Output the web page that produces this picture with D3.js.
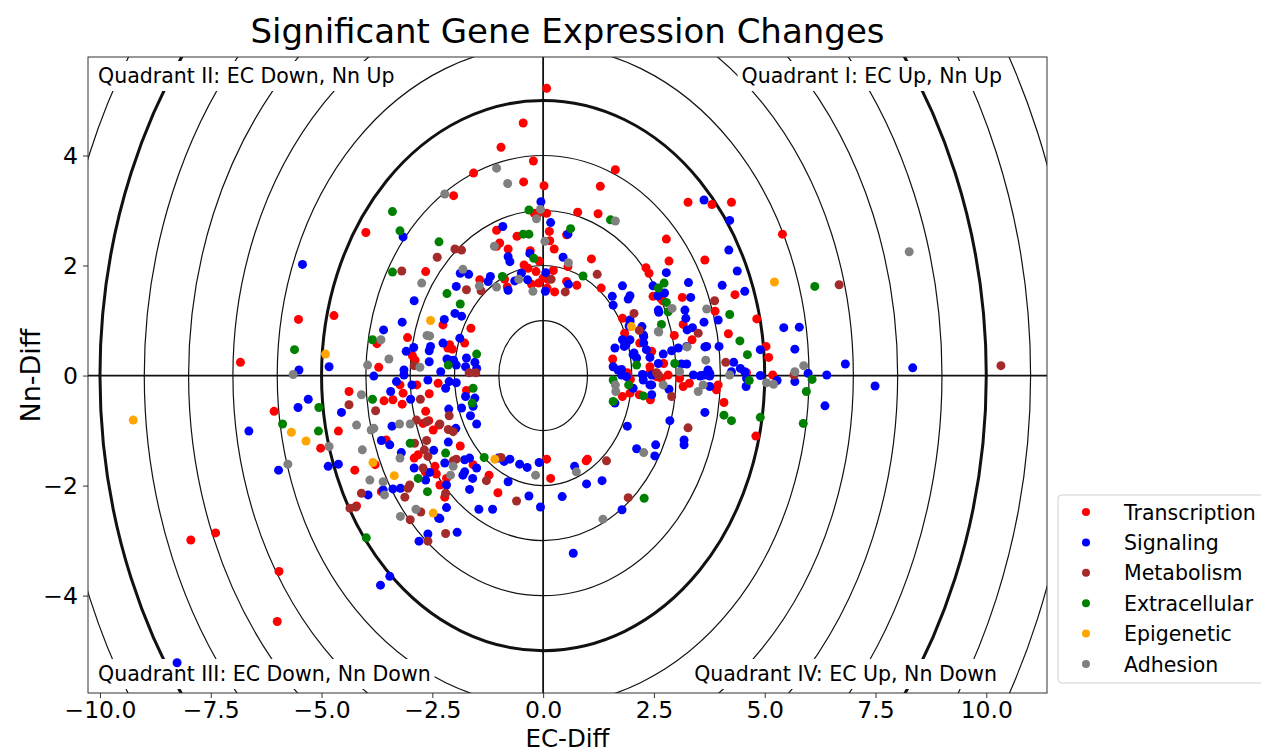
<!DOCTYPE html>
<html>
<head>
<meta charset="utf-8">
<script src="https://cdn.jsdelivr.net/npm/d3@7"></script>
<style>
body { margin: 0; background: #fff; }
text { font-family: "DejaVu Sans", sans-serif; fill: #000; }
</style>
</head>
<body>
<div id="main"></div>
<script>
// categories and their colours (legend order)
var categories = ["Transcription", "Signaling", "Metabolism", "Extracellular", "Epigenetic", "Adhesion"];
var catColors = ["red", "blue", "brown", "green", "orange", "gray"];

// [EC-Diff, Nn-Diff] per gene
var transcription = [
  [-2.65,1.89],[-4.00,2.60],[-5.52,1.02],[-4.72,1.09],[-2.26,0.92],[-3.06,0.69],[-3.75,0.58],[-2.95,0.36],[-2.89,0.28],[-2.15,0.50],[-6.83,0.24],[-3.71,0.15],
  [0.08,5.22],[-0.45,4.59],[-0.95,4.15],[-0.22,3.90],[-1.57,3.68],[-0.44,3.52],[0.02,3.45],[1.63,3.74],[1.29,3.44],[-2.02,3.27],[-0.20,2.95],[-0.12,2.94],[0.08,2.95],[0.78,2.97],[1.24,2.94],[-1.05,2.64],[0.53,2.56],[0.14,2.62],[-0.59,2.53],[0.15,2.45],[-0.98,2.41],[-1.05,2.35],[-0.79,2.30],[-0.29,2.27],[-0.09,2.08],[0.25,2.30],[0.56,1.98],[1.09,2.12],[-1.43,1.74],[-0.87,1.75],[-0.81,1.61],[-0.43,2.01],[-0.34,1.95],[-0.26,1.66],[-0.10,1.68],[-0.16,1.89],[0.00,1.77],[0.11,1.75],[0.23,1.91],[0.09,1.59],[0.26,1.52],[0.53,1.71],[0.76,1.64],[1.31,1.59],[2.32,1.96],[2.39,1.86],[2.48,1.44],[-1.63,0.86],[1.79,1.04],[1.84,0.77],[2.18,0.59],[1.57,0.30],[2.45,0.44],[2.41,0.16],[1.90,0.05],[-2.11,0.56],[-2.05,0.48],[-1.77,0.59],
  [3.27,3.15],[3.81,3.11],[4.25,3.15],[5.40,2.57],[2.78,2.48],[2.84,2.08],[3.65,2.10],[4.33,1.47],[3.14,1.42],[2.65,1.41],[2.70,1.36],[3.88,1.17],[3.16,0.93],[2.96,0.73],[3.36,0.65],[4.18,0.76],[4.82,1.03],[5.03,0.53],[5.09,0.33],[2.72,0.22],[4.59,0.05],[5.18,0.01],
  [-4.38,-0.29],[-3.59,-0.46],[-3.39,-0.44],[-3.18,-0.52],[-3.16,-0.32],[-2.57,-0.33],[-2.85,-0.17],[-3.23,-0.17],[-2.37,-0.14],[-6.07,-0.65],[-4.62,-1.01],[-5.02,-1.32],[-2.71,-0.87],[-2.58,-0.82],[-2.48,-0.99],[-2.35,-0.90],[-2.65,-0.65],[-3.54,-1.17],[-2.91,-1.50],[-2.82,-1.44],[-3.79,-1.62],[-4.25,-1.72],[-2.66,-1.75],[-2.44,-1.65],[-2.41,-1.79],[-2.18,-1.87],[-2.33,-1.99],[-3.65,-2.11],[-4.21,-2.37],[-5.96,-3.56],[-6.00,-4.47],[-2.22,-2.21],
  [-7.95,-2.99],[-7.39,-2.86],
  [-1.73,-0.27],[-1.87,-1.28],[-1.58,-1.62],[0.08,-1.52],[0.17,-1.87],[-1.22,-1.81],[-1.02,-2.13],[0.97,-1.55],[1.00,-1.52],[1.79,-0.38],[1.96,-0.32],[2.17,-0.35],[2.42,-0.44],[1.90,0.03],[1.97,-0.07],[2.42,0.07],
  [2.56,-0.02],[2.67,-0.05],[2.82,0.01],[3.08,-0.05],[3.16,-0.20],[3.30,-0.14],[3.91,-0.26],[3.95,-0.17],[4.08,-0.49],[4.80,-1.10]
];
var signaling = [
  [-3.16,2.52],[-5.43,2.02],[-2.91,1.36],[-3.18,0.97],[-2.23,1.02],[-3.60,0.83],[-2.92,0.51],[-3.09,0.44],[-2.54,0.53],[-2.57,0.45],[-2.57,0.25],[-2.26,0.59],[-2.17,0.30],[-5.51,0.10],[-4.83,0.16],[-3.14,0.10],[-3.14,0.01],[-3.82,-0.01],[-2.31,0.07],
  [-0.05,3.16],[0.17,2.78],[-0.91,2.71],[0.56,2.57],[-0.30,2.22],[0.45,2.15],[-0.79,2.16],[-0.75,2.07],[-1.87,1.86],[-1.68,1.84],[-1.24,1.71],[-1.19,1.80],[-1.96,1.62],[-0.79,1.55],[-0.64,1.72],[-0.49,1.86],[-0.35,1.74],[0.06,1.87],[0.05,1.53],[0.57,1.66],[1.79,1.63],[1.56,1.44],[1.92,1.39],[1.96,1.45],[2.48,1.63],[2.59,1.45],[-1.99,1.13],[-1.84,1.08],[1.58,1.28],[1.96,1.01],[1.94,0.90],[2.23,0.89],[2.27,0.71],[1.79,0.65],[2.27,0.59],[2.33,0.47],[1.62,0.50],[1.83,0.53],[2.05,0.41],[1.58,0.16],[1.77,0.11],[2.24,0.02],[2.60,0.22],[2.60,1.19],[-1.88,0.68],[-2.11,0.28],[-1.96,0.19],[-2.02,0.28],[-1.73,0.32],[-1.75,0.16],[-1.54,0.24],[-1.50,0.13],
  [1.96,0.65],[1.87,0.56],[2.03,0.38],[2.11,0.32],[2.41,0.33],[1.69,0.10],[2.26,0.74],[1.96,0.98],
  [3.63,3.19],[4.21,2.82],[4.19,2.28],[4.38,1.90],[2.78,1.87],[3.28,1.69],[4.04,1.64],[4.55,1.53],[3.33,1.42],[2.74,1.50],[2.61,1.15],[3.20,1.19],[3.22,1.04],[3.63,0.97],[3.25,0.83],[3.37,0.87],[3.95,1.01],[5.43,0.87],[5.78,0.88],[3.97,0.53],[3.65,0.52],[3.69,0.53],[4.90,0.47],[5.68,0.48],[6.82,0.21],[3.24,0.53],[3.05,0.50],[2.90,0.45],[2.71,0.39],[3.12,0.21],[3.24,0.21],[4.30,0.24],[4.45,0.13],[3.72,0.10],[3.76,0.04],[3.39,0.01],[3.57,0.00],[4.90,0.00],[5.98,0.04],[6.40,0.01],
  [-3.44,-0.29],[-2.99,-0.43],[-3.31,-0.11],[-2.96,-0.17],[-2.60,-0.08],[-5.30,-0.43],[-5.53,-0.58],[-4.55,-0.67],[-6.64,-1.01],[-5.97,-1.72],[-4.85,-1.65],[-4.62,-1.61],[-3.41,-0.92],[-3.65,-1.18],[-3.46,-1.26],[-3.20,-1.40],[-2.47,-1.36],[-2.91,-1.68],[-2.56,-1.76],[-2.65,-1.90],[-3.39,-2.06],[-3.22,-2.05],[-3.61,-2.08],[-3.95,-2.17],[-2.36,-2.59],[-2.60,-2.88],[-2.80,-3.01],[-3.46,-3.65],[-3.67,-3.81],
  [-8.26,-5.22],
  [-2.12,-0.11],[-1.96,-0.13],[-2.20,-0.23],[-1.75,-0.38],[-1.54,-0.41],[-1.58,-0.56],[-1.84,-0.59],[-2.13,-0.61],[-1.64,-0.73],[-1.50,-0.88],[-1.97,-0.96],[-2.14,-1.21],[-2.22,-1.59],[-1.77,-1.53],[-1.66,-1.50],[-1.50,-1.68],[-1.77,-1.75],[-1.81,-1.81],[-2.18,-1.99],[-1.59,-1.87],[-1.01,-1.50],[-0.88,-1.56],[-0.75,-1.52],[-0.53,-1.61],[-0.36,-1.67],[-0.09,-1.58],[-0.79,-1.93],[-1.66,-2.07],[-2.18,-2.40],[-2.33,-2.60],[-0.32,-2.19],[-1.45,-2.43],[-1.14,-2.43],[-0.06,-2.39],[0.43,-2.20],[-1.94,-2.85],[0.71,-1.65],[0.98,-1.97],[1.33,-1.91],[1.78,-2.44],[0.68,-3.23],[1.90,-0.92],[2.11,-1.33],[2.54,-1.26],[2.52,-1.46],[1.62,-0.50],[1.77,0.01],[1.88,-0.02],[2.26,-0.08],[2.41,-0.17],[2.26,0.01],[2.03,-0.23],
  [2.45,0.01],[2.45,-0.17],[2.45,-0.35],[2.84,-0.25],[3.54,-0.01],[3.65,0.01],[3.76,-0.01],[3.76,-0.20],[3.65,-0.67],[2.86,-0.82],[3.18,-1.17],[3.18,-1.26],[4.58,-0.20],[4.59,-0.05],[4.25,0.07],[4.55,0.07],[5.28,-0.09],[5.68,-0.11],[6.36,-0.55],[7.49,-0.19],
  [8.34,0.14]
];
var metabolism = [
  [-2.39,2.15],[-3.19,1.90],[-2.91,0.18],
  [-1.99,2.30],[-1.84,2.28],[-1.40,1.54],[-1.73,1.56],[0.18,1.75],[0.50,1.52],[1.22,1.84],[2.05,1.13],[2.17,0.82],[-1.67,0.05],[-1.52,0.05],
  [6.68,1.65],[3.87,1.36],[3.50,0.77],[4.12,0.24],[2.56,0.05],
  [-4.38,-0.53],[-3.78,-0.64],[-2.77,-0.43],[-2.86,-0.81],[-2.63,-0.84],[-2.90,-1.23],[-2.63,-1.18],[-2.60,-1.47],[-2.68,-1.35],[-2.71,-1.68],[-3.01,-1.99],[-3.05,-2.05],[-4.10,-2.14],[-3.12,-2.21],[-2.20,-2.14],[-4.36,-2.41],[-4.23,-2.39],[-3.00,-2.62],[-2.76,-2.48],[-2.20,-2.87],[-2.60,-3.01],
  [-2.12,-0.73],[-2.14,-0.98],[-2.03,-1.02],[-2.33,-0.88],[-2.03,-1.55],[-1.96,-1.52],[-0.95,-1.49],[-1.28,-1.91],[-0.60,-2.28],[1.43,-1.55],[1.92,-2.22],[2.60,0.01],
  [2.90,-0.38],[3.27,-0.95],[5.66,0.01],
  [10.33,0.18]
];
var extracellular = [
  [-3.40,2.98],[-3.23,2.63],[-2.35,2.43],[-3.40,1.88],[-2.17,1.49],[-3.85,0.65],[-5.61,0.47],[-2.14,0.19],
  [-0.32,3.01],[1.52,2.83],[0.62,2.67],[-0.45,2.57],[-0.32,2.57],[-0.21,2.13],[-0.92,1.80],[0.90,1.81],[-1.87,1.30],[-1.50,0.39],[2.11,0.19],
  [6.13,1.62],[2.73,1.68],[2.60,1.59],[2.78,1.33],[4.21,1.11],[2.82,1.16],[2.67,0.93],[4.44,0.63],[4.61,0.38],[2.97,0.22],
  [-3.85,-0.43],[-5.06,-0.58],[-5.88,-0.88],[-5.07,-1.01],[-3.00,-1.23],[-2.20,-1.41],[-2.82,-1.87],[-2.61,-2.11],[-3.99,-2.95],
  [-1.58,-0.23],[-1.60,-0.50],[-1.33,-1.49],[2.28,-2.23],[1.58,-0.08],[1.58,-0.47],[1.93,-0.17],[2.26,-0.37],
  [4.08,-0.72],[4.25,-0.82],[4.90,-0.76],[6.07,-0.07],[5.94,-0.29],[5.87,-0.87],[4.65,-0.09]
];
var epigenetic = [
  [-2.54,1.00],[-4.91,0.39],[5.22,1.70],[1.99,0.89],
  [-5.68,-1.03],[-5.35,-1.19],[-3.84,-1.58],[-3.36,-1.82],[-2.48,-2.50],
  [-9.25,-0.81],[-1.09,-1.52]
];
var adhesion = [
  [-2.22,3.30],[-2.74,1.68],[-2.62,0.73],[-2.56,0.72],[-3.66,0.65],[-3.48,0.30],[-3.96,0.19],[-5.64,0.02],[-2.78,0.15],
  [-1.05,3.77],[-0.80,3.49],[-0.06,3.02],[-0.15,2.85],[1.63,2.81],[0.04,2.44],[-1.10,2.35],[0.57,2.05],[-1.81,1.93],[-1.44,1.63],[-1.05,1.61],[-0.55,1.75],[-0.23,1.53],[2.60,0.80],
  [3.69,1.21],[2.91,1.22],[2.61,0.79],[3.67,0.28],[5.88,0.18],[4.21,0.01],[3.25,0.52],[5.68,0.07],
  [-4.10,-0.35],[-4.21,-0.90],[-3.88,-0.99],[-3.82,-0.96],[-4.08,-1.35],[-4.83,-1.29],[-5.76,-1.61],[-3.24,-0.88],[-3.00,-0.88],[-3.23,-1.50],[-3.91,-1.90],[-3.61,-1.93],[-3.58,-2.17],[-3.22,-2.56],[-2.87,-2.43],
  [-2.03,-1.65],[-2.09,-1.81],[-0.17,-1.81],[0.75,-1.75],[1.35,-2.61],[2.27,-1.40],[1.63,-0.17],[1.64,-0.29],
  [2.71,-0.17],[3.08,0.07],[3.50,-0.29],[3.61,-0.17],[5.04,-0.13],[5.20,-0.16],
  [8.26,2.25]
];
var seriesData = [transcription, signaling, metabolism, extracellular, epigenetic, adhesion];

var xTicks = [-10, -7.5, -5, -2.5, 0, 2.5, 5, 7.5, 10];
var yTicks = [-4, -2, 0, 2, 4];
var rings = [1, 2, 3, 4, 5, 6, 7, 8, 9, 10, 11, 12, 13];
var thickRings = [5, 10];
var quadrantLabels = ["Quadrant I: EC Up, Nn Up", "Quadrant II: EC Down, Nn Up",
                      "Quadrant III: EC Down, Nn Down", "Quadrant IV: EC Up, Nn Down"];

var W = 1261, H = 753;
var plot = {left: 88, top: 57, right: 1047, bottom: 693};

var svg = d3.select("#main").append("svg")
    .attr("width", W)
    .attr("height", H);

var xScale = d3.scaleLinear().domain([-10.27, 11.37]).range([plot.left, plot.right]);
var yScale = d3.scaleLinear().domain([-5.77, 5.79]).range([plot.bottom, plot.top]);

svg.append("clipPath").attr("id", "clip")
  .append("rect")
    .attr("x", plot.left).attr("y", plot.top)
    .attr("width", plot.right - plot.left)
    .attr("height", plot.bottom - plot.top);

var inner = svg.append("g").attr("clip-path", "url(#clip)");

// concentric rings, radius in data units on both axes
inner.selectAll("ellipse.ring")
    .data(rings)
    .enter().append("ellipse")
    .attr("class", "ring")
    .attr("cx", xScale(0))
    .attr("cy", yScale(0))
    .attr("rx", function(r) { return xScale(r) - xScale(0); })
    .attr("ry", function(r) { return yScale(0) - yScale(r); })
    .style("fill", "none")
    .style("stroke", "#111")
    .style("stroke-width", function(r) { return thickRings.indexOf(r) >= 0 ? 3 : 1.2; });

// zero lines
inner.append("line")
    .attr("x1", plot.left).attr("x2", plot.right)
    .attr("y1", yScale(0)).attr("y2", yScale(0))
    .style("stroke", "#111").style("stroke-width", 1.8);
inner.append("line")
    .attr("x1", xScale(0)).attr("x2", xScale(0))
    .attr("y1", plot.top).attr("y2", plot.bottom)
    .style("stroke", "#111").style("stroke-width", 1.8);

// quadrant labels with white boxes
var qPos = [
  {x: 1002, y: 83, anchor: "end"},
  {x: 98, y: 83, anchor: "start"},
  {x: 98, y: 681, anchor: "start"},
  {x: 997, y: 681, anchor: "end"}
];
quadrantLabels.forEach(function(label, i) {
  var g = inner.append("g");
  var t = g.append("text")
      .attr("x", qPos[i].x)
      .attr("y", qPos[i].y)
      .style("text-anchor", qPos[i].anchor)
      .style("font-size", "20.5px")
      .text(label);
  var bb = t.node().getBBox();
  g.insert("rect", "text")
      .attr("x", bb.x - 4).attr("y", bb.y - 3)
      .attr("width", bb.width + 8).attr("height", bb.height + 6)
      .style("fill", "#fff");
});

// points
var pts = svg.append("g").attr("clip-path", "url(#clip)");
seriesData.forEach(function(series, i) {
  pts.selectAll(null)
      .data(series)
      .enter().append("circle")
      .attr("cx", function(d) { return xScale(d[0]); })
      .attr("cy", function(d) { return yScale(d[1]); })
      .attr("r", 4.5)
      .style("fill", catColors[i]);
});

// frame
svg.append("rect")
    .attr("x", plot.left).attr("y", plot.top)
    .attr("width", plot.right - plot.left)
    .attr("height", plot.bottom - plot.top)
    .style("fill", "none")
    .style("stroke", "#333")
    .style("stroke-width", 1);

// axes
var xAxis = d3.axisBottom(xScale).tickValues(xTicks).tickFormat(d3.format(".1f")).tickSize(5).tickPadding(3);
var yAxis = d3.axisLeft(yScale).tickValues(yTicks).tickFormat(d3.format("d")).tickSize(5).tickPadding(5);

var gx = svg.append("g")
    .attr("transform", "translate(0," + plot.bottom + ")")
    .call(xAxis);
var gy = svg.append("g")
    .attr("transform", "translate(" + plot.left + ",0)")
    .call(yAxis);
[gx, gy].forEach(function(g) {
  g.select(".domain").remove();
  g.selectAll(".tick line").style("stroke", "#333");
  g.selectAll(".tick text").style("font-size", "23.5px").style("fill", "#000")
    .style("font-family", "DejaVu Sans, sans-serif");
});

// title and axis labels
svg.append("text")
    .attr("x", (plot.left + plot.right) / 2)
    .attr("y", 43)
    .style("text-anchor", "middle")
    .style("font-size", "34px")
    .text("Significant Gene Expression Changes");

svg.append("text")
    .attr("x", (plot.left + plot.right) / 2)
    .attr("y", 747)
    .style("text-anchor", "middle")
    .style("font-size", "24.5px")
    .text("EC-Diff");

svg.append("text")
    .attr("transform", "translate(40," + yScale(0) + ") rotate(-90)")
    .style("text-anchor", "middle")
    .style("font-size", "27px")
    .text("Nn-Diff");

// legend
svg.append("rect")
    .attr("x", 1058).attr("y", 495)
    .attr("width", 220).attr("height", 188)
    .attr("rx", 4).attr("ry", 4)
    .style("fill", "#fff")
    .style("stroke", "#d0d0d0")
    .style("stroke-width", 1);

var legend = svg.selectAll(".legend")
    .data(categories)
    .enter().append("g")
    .attr("class", "legend")
    .attr("transform", function(d, i) { return "translate(0," + (512 + i * 30.4) + ")"; });

legend.append("circle")
    .attr("cx", 1086)
    .attr("cy", 0)
    .attr("r", 4)
    .style("fill", function(d, i) { return catColors[i]; });

legend.append("text")
    .attr("x", 1124)
    .attr("y", 7.5)
    .style("font-size", "20.5px")
    .text(function(d) { return d; });
</script>
</body>
</html>
